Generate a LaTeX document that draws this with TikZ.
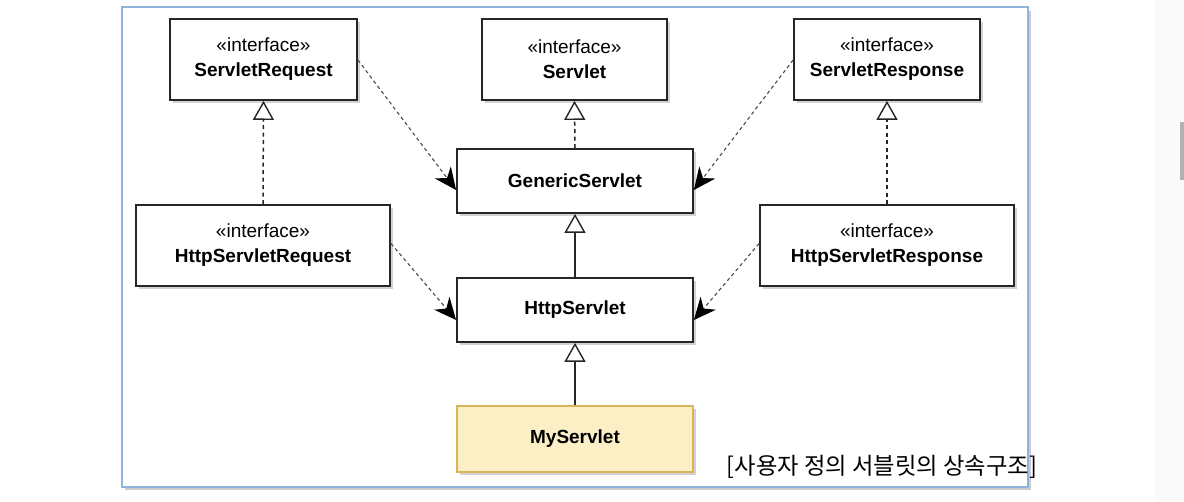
\documentclass[tikz,border=0pt]{standalone}
\usepackage{fontspec}
\setmainfont{Liberation Sans}
\newfontfamily\kofont{Noto Sans CJK KR}
\usetikzlibrary{arrows.meta,shadows}
\definecolor{framecol}{HTML}{8FB3D9}
\definecolor{myfill}{HTML}{FCEFC6}
\definecolor{myborder}{HTML}{D6B656}
\tikzset{
  cls/.style={draw=black!85, line width=1.8pt, fill=white, align=center, inner sep=0pt,
    font=\fontsize{19}{25}\selectfont,
    drop shadow={shadow xshift=3pt, shadow yshift=-3pt, opacity=0.35, fill=gray}},
  realize/.style={dashed, dash pattern=on 4pt off 3.5pt, line width=1.5pt, draw=black!85, -{Triangle[open, length=19pt, width=21pt, fill=white, line width=1.4pt]}},
  extend/.style={line width=1.5pt, draw=black!85, -{Triangle[open, length=19pt, width=21pt, fill=white, line width=1.4pt]}},
  depend/.style={dashed, dash pattern=on 3.5pt off 3pt, line width=1.1pt, draw=black!70, -{Stealth[length=22pt, width=20pt, inset=7pt, color=black, fill=black]}},
}
\begin{document}
\begin{tikzpicture}[x=1pt, y=-1pt]
\useasboundingbox (0,0) rectangle (1184,502);
\fill[white] (0,0) rectangle (1184,502);
% right page edge artifacts
\fill[black!2] (1155,0) rectangle (1184,502);
\fill[black!30] (1180,122) rectangle (1184,180);
% outer frame
\fill[black!20] (125,11) rectangle (1031,490);
\draw[framecol, line width=1.2pt, fill=white] (122,7) rectangle (1028,487);

\node[cls, minimum width=187pt, minimum height=81pt] (sreq) at (263.5,59.5)
  {«interface»\\\textbf{ServletRequest}};
\node[cls, minimum width=185pt, minimum height=81pt] (srv) at (574.5,59.5)
  {«interface»\\\textbf{Servlet}};
\node[cls, minimum width=186pt, minimum height=81pt] (sres) at (887,59.5)
  {«interface»\\\textbf{ServletResponse}};
\node[cls, minimum width=236pt, minimum height=64pt] (gen) at (575,181)
  {\textbf{GenericServlet}};
\node[cls, minimum width=254pt, minimum height=81pt] (hreq) at (263,245.5)
  {«interface»\\\textbf{HttpServletRequest}};
\node[cls, minimum width=254pt, minimum height=81pt] (hres) at (887,245.5)
  {«interface»\\\textbf{HttpServletResponse}};
\node[cls, minimum width=236pt, minimum height=64pt] (http) at (575,310)
  {\textbf{HttpServlet}};
\node[cls, draw=myborder, fill=myfill, minimum width=236pt, minimum height=66pt] (my) at (575,439)
  {\textbf{MyServlet}};

\draw[realize] (hreq.north) -- (sreq.south);
\draw[realize] (hres.north) -- (sres.south);
\draw[realize] (gen.north) -- (srv.south);
\draw[extend] (http.north) -- (gen.south);
\draw[extend] (my.north) -- (http.south);

\draw[depend] ([yshift=-0.5pt]sreq.east) -- ([yshift=-9pt]gen.west);
\draw[depend] ([yshift=-0.5pt]sres.west) -- ([yshift=-9pt]gen.east);
\draw[depend] ([yshift=2pt]hreq.east) -- ([yshift=-10pt]http.west);
\draw[depend] ([yshift=2pt]hres.west) -- ([yshift=-10pt]http.east);

\node[anchor=center, inner sep=0pt, font=\kofont\fontsize{23.3}{26}\selectfont] (cap) at (882,467)
  {[사용자 정의 서블릿의 상속구조]};
\end{tikzpicture}
\end{document}
